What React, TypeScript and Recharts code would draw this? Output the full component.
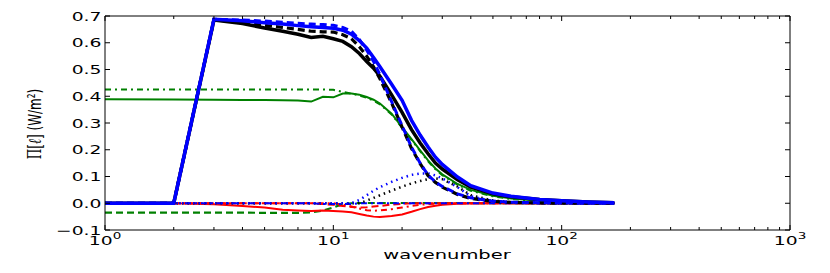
import React from 'react'
import { LineChart, Line, XAxis, YAxis, Label } from 'recharts'

// wavenumber grid shared by every curve
const wavenumbers = [1, 2, 3, 4, 5, 6, 7, 8, 9, 10, 11, 12, 13, 14, 15, 16, 18, 20, 22, 24, 26, 28, 30, 35, 40, 50, 60, 80, 100, 130, 170]

const blueSolid = [0, 0, 0.688, 0.682, 0.675, 0.67, 0.664, 0.66, 0.657, 0.654, 0.647, 0.632, 0.608, 0.58, 0.545, 0.51, 0.445, 0.385, 0.31, 0.255, 0.21, 0.172, 0.145, 0.098, 0.066, 0.038, 0.026, 0.014, 0.009, 0.005, 0.002]
const blackSolid = [0, 0, 0.685, 0.672, 0.655, 0.643, 0.632, 0.62, 0.624, 0.615, 0.605, 0.585, 0.56, 0.53, 0.505, 0.475, 0.405, 0.34, 0.275, 0.225, 0.185, 0.15, 0.128, 0.088, 0.06, 0.035, 0.024, 0.014, 0.009, 0.005, 0.002]
const blueDashed = [0, 0, 0.688, 0.685, 0.681, 0.677, 0.673, 0.67, 0.668, 0.665, 0.657, 0.643, 0.612, 0.572, 0.53, 0.48, 0.38, 0.29, 0.21, 0.15, 0.105, 0.08, 0.063, 0.035, 0.02, 0.008, 0.004, 0.002, 0.001, 0, 0]
const blackDashed = [0, 0, 0.686, 0.675, 0.665, 0.657, 0.65, 0.643, 0.641, 0.64, 0.63, 0.615, 0.585, 0.55, 0.51, 0.465, 0.375, 0.285, 0.205, 0.148, 0.103, 0.078, 0.06, 0.033, 0.018, 0.007, 0.003, 0.001, 0, 0, 0]
const greenSolid = [0.389, 0.388, 0.387, 0.386, 0.386, 0.385, 0.384, 0.38, 0.398, 0.396, 0.41, 0.41, 0.406, 0.397, 0.387, 0.373, 0.335, 0.285, 0.24, 0.198, 0.16, 0.13, 0.108, 0.072, 0.05, 0.028, 0.018, 0.009, 0.005, 0.002, 0.001]
const greenDashDot = [0.425, 0.425, 0.425, 0.425, 0.425, 0.425, 0.425, 0.425, 0.425, 0.424, 0.416, 0.41, 0.403, 0.394, 0.384, 0.37, 0.332, 0.282, 0.237, 0.195, 0.157, 0.127, 0.105, 0.069, 0.047, 0.026, 0.016, 0.008, 0.004, 0.002, 0.001]
const greenDashed = [-0.035, -0.035, -0.035, -0.035, -0.036, -0.036, -0.036, -0.034, -0.027, -0.016, -0.003, 0, 0.001, 0.001, 0.001, 0.001, 0.001, 0.001, 0.001, 0.001, 0.001, 0.001, 0.001, 0.001, 0.001, 0, 0, 0, 0, 0, 0]
const redSolid = [null, 0, -0.004, -0.01, -0.016, -0.024, -0.027, -0.029, -0.027, -0.029, -0.031, -0.034, -0.04, -0.046, -0.05, -0.051, -0.048, -0.042, -0.032, -0.022, -0.014, -0.009, -0.006, -0.002, -0.001, 0, 0, 0, 0, 0, 0]
const redDashed = [null, 0, 0, 0, 0, 0, 0, 0, -0.003, -0.006, -0.01, -0.014, -0.016, -0.015, -0.012, -0.01, -0.005, -0.002, 0, 0, 0, 0, 0, 0, 0, 0, 0, 0, 0, 0, 0]
const redDashDot = [null, 0, 0, 0, 0, 0, 0, 0, 0, 0, -0.005, -0.012, -0.02, -0.026, -0.028, -0.027, -0.022, -0.016, -0.01, -0.006, -0.003, -0.002, -0.001, 0, 0, 0, 0, 0, 0, 0, 0]
const blueDotted = [0, 0, 0, 0, 0, 0, 0, 0, 0, 0, 0, 0, 0.012, 0.03, 0.047, 0.06, 0.08, 0.095, 0.106, 0.111, 0.112, 0.104, 0.093, 0.06, 0.026, 0.008, 0.003, 0, 0, 0, 0]
const blackDotted = [0, 0, 0, 0, 0, 0, 0, 0, 0, 0, 0, 0, 0, 0.01, 0.02, 0.03, 0.047, 0.062, 0.074, 0.083, 0.09, 0.093, 0.09, 0.062, 0.03, 0.01, 0.004, 0.001, 0, 0, 0]
const blueDashDot = [0, 0, 0, 0, 0, 0, 0, 0, -0.003, -0.003, -0.003, -0.003, 0, 0, 0, 0, 0, 0, 0, 0, 0, 0, 0, 0, 0, 0, 0, 0, 0, 0, 0]

const yTicks = [-0.1, 0, 0.1, 0.2, 0.3, 0.4, 0.5, 0.6, 0.7]
const xMajor = [1, 10, 100, 1000]
const xTicks = [1, 2, 3, 4, 5, 6, 7, 8, 9, 10, 20, 30, 40, 50, 60, 70, 80, 90, 100, 200, 300, 400, 500, 600, 700, 800, 900, 1000]

const data = wavenumbers.map((k, i) => ({
  k,
  blueSolid: blueSolid[i],
  blackSolid: blackSolid[i],
  blueDashed: blueDashed[i],
  blackDashed: blackDashed[i],
  greenSolid: greenSolid[i],
  greenDashDot: greenDashDot[i],
  greenDashed: greenDashed[i],
  redSolid: redSolid[i],
  redDashed: redDashed[i],
  redDashDot: redDashDot[i],
  blueDotted: blueDotted[i],
  blackDotted: blackDotted[i],
  blueDashDot: blueDashDot[i],
}))

const DASH = '7 4'
const DOT = '1.5 4'
const DASHDOT = '6 4 2 4'

// drawn in this order, last on top
const series = [
  { key: 'greenDashed', color: '#008000', width: 2.2, dash: DASH },
  { key: 'greenDashDot', color: '#008000', width: 2, dash: DASHDOT },
  { key: 'greenSolid', color: '#008000', width: 2 },
  { key: 'redDashDot', color: '#ff0000', width: 2, dash: DASHDOT },
  { key: 'redDashed', color: '#ff0000', width: 2, dash: DASH },
  { key: 'redSolid', color: '#ff0000', width: 2 },
  { key: 'blueDashDot', color: '#0000ff', width: 2, dash: DASHDOT },
  { key: 'blackDotted', color: '#000000', width: 2.5, dash: DOT },
  { key: 'blueDotted', color: '#0000ff', width: 2.5, dash: DOT },
  { key: 'blackDashed', color: '#000000', width: 3.2, dash: DASH },
  { key: 'blackSolid', color: '#000000', width: 3.5 },
  { key: 'blueSolid', color: '#0000ff', width: 3.5 },
  { key: 'blueDashed', color: '#0000ff', width: 3, dash: DASH },
]

const FONT = 'DejaVu Sans'

const BottomTick = (props: any) => {
  const { x, y, payload } = props
  const v = payload.value
  const major = xMajor.includes(v)
  return (
    <g>
      <line x1={x} x2={x} y1={y} y2={y - (major ? 5 : 3)} stroke="#000" />
      {major && (
        <text transform={`translate(${x},${y + 15}) scale(1.5,1)`} textAnchor="middle" fontSize={12.5} fontFamily={FONT} fill="#000">
          10<tspan dy={-6} fontSize={9}>{Math.round(Math.log10(v))}</tspan>
        </text>
      )}
    </g>
  )
}

const TopTick = (props: any) => {
  const { x, y, payload } = props
  const major = xMajor.includes(payload.value)
  return <line x1={x} x2={x} y1={y} y2={y + (major ? 5 : 3)} stroke="#000" />
}

const LeftTick = (props: any) => {
  const { x, y, payload } = props
  const v = payload.value
  const txt = v < 0 ? '\u2212' + Math.abs(v).toFixed(1) : v.toFixed(1)
  return (
    <g>
      <line x1={x} x2={x + 5} y1={y} y2={y} stroke="#000" />
      <text transform={`translate(${x - 3.5},${y}) scale(1.5,1)`} dy="0.36em" textAnchor="end" fontSize={12.5} fontFamily={FONT} fill="#000">
        {txt}
      </text>
    </g>
  )
}

const RightTick = (props: any) => {
  const { x, y } = props
  return <line x1={x} x2={x - 5} y1={y} y2={y} stroke="#000" />
}

export default function App() {
  return (
    <div style={{ position: 'absolute', left: 0, top: 0, background: '#fff' }}>
      <LineChart width={830} height={273} data={data} margin={{ top: 0, right: 0, bottom: 0, left: 0 }}>
        <XAxis
          dataKey="k"
          type="number"
          scale="log"
          domain={[1, 1000]}
          allowDataOverflow
          ticks={xTicks}
          interval={0}
          tickSize={0}
          tickMargin={0}
          height={43}
          axisLine={{ stroke: '#000' }}
          tick={<BottomTick />}
        >
          <Label
            content={() => (
              <text transform="translate(447,259) scale(1.5,1)" textAnchor="middle" fontSize={13} fontFamily={FONT} fill="#000">
                wavenumber
              </text>
            )}
          />
        </XAxis>
        <XAxis
          xAxisId="top"
          orientation="top"
          dataKey="k"
          type="number"
          scale="log"
          domain={[1, 1000]}
          allowDataOverflow
          ticks={xTicks}
          interval={0}
          tickSize={0}
          tickMargin={0}
          height={16}
          axisLine={{ stroke: '#000' }}
          tick={<TopTick />}
        />
        <YAxis
          type="number"
          domain={[-0.1, 0.7]}
          allowDataOverflow
          ticks={yTicks}
          interval={0}
          tickSize={0}
          tickMargin={0}
          width={105}
          axisLine={{ stroke: '#000' }}
          tick={<LeftTick />}
        >
          <Label
            content={() => (
              <text transform="translate(41,124) rotate(-90) scale(1,1.5)" textAnchor="middle" fontSize={12} fontFamily={FONT} fill="#000">
                <tspan fontFamily="DejaVu Serif">Π[</tspan>
                <tspan fontFamily="DejaVu Serif" fontStyle="italic">ℓ</tspan>
                <tspan fontFamily="DejaVu Serif">]</tspan> (W/m²)
              </text>
            )}
          />
        </YAxis>
        <YAxis
          yAxisId="right"
          orientation="right"
          type="number"
          domain={[-0.1, 0.7]}
          allowDataOverflow
          ticks={yTicks}
          interval={0}
          tickSize={0}
          tickMargin={0}
          width={40}
          axisLine={{ stroke: '#000' }}
          tick={<RightTick />}
        />
        {series.map((s) => (
          <Line
            key={s.key}
            dataKey={s.key}
            type="linear"
            stroke={s.color}
            strokeWidth={s.width}
            strokeDasharray={s.dash}
            dot={false}
            activeDot={false}
            isAnimationActive={false}
          />
        ))}
      </LineChart>
    </div>
  )
}
